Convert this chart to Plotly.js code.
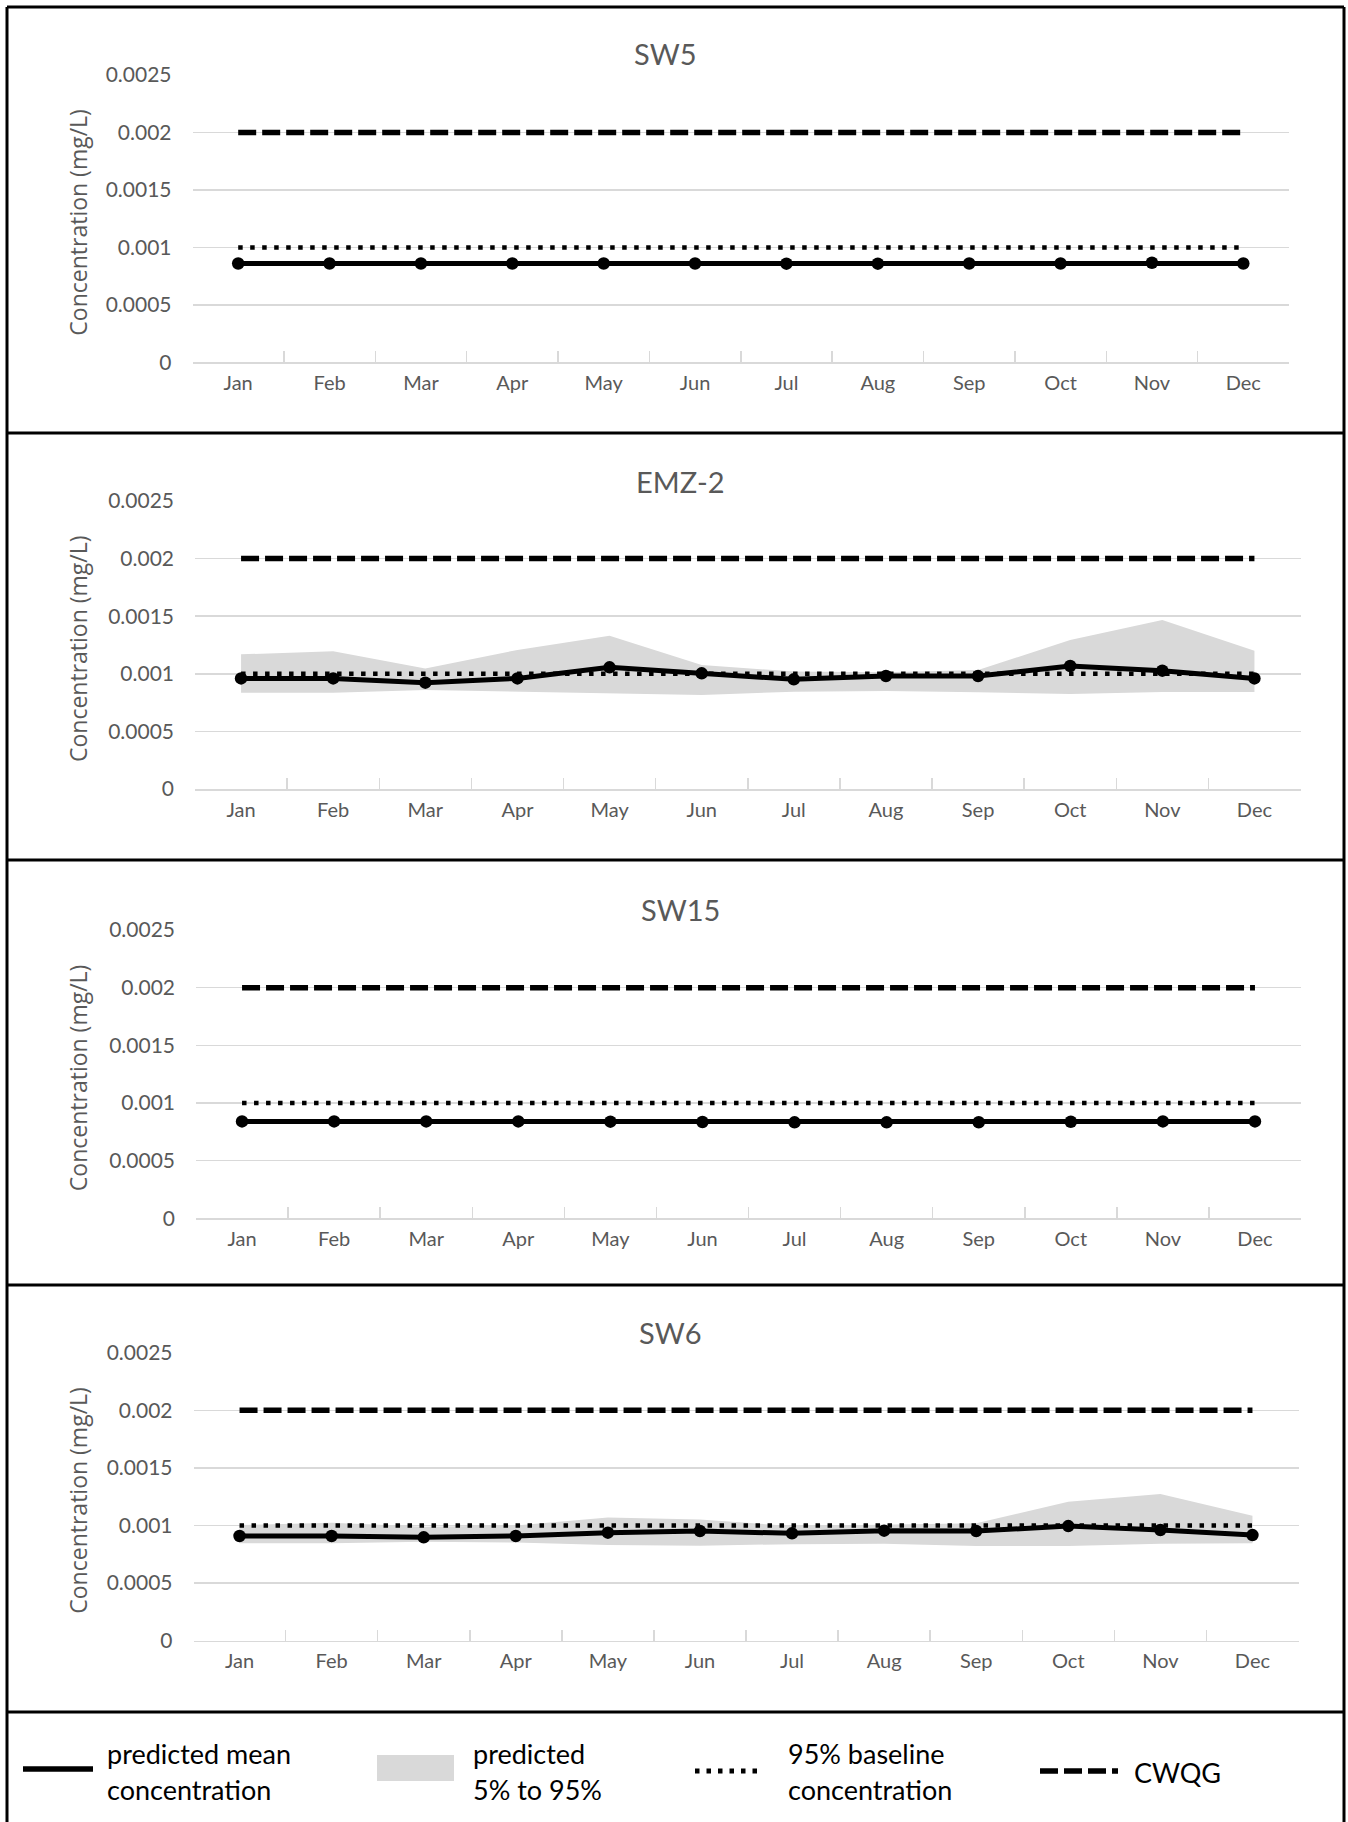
<!DOCTYPE html>
<html>
<head>
<meta charset="utf-8">
<script src="https://cdn.plot.ly/plotly-3.0.1.min.js"></script>
<style>html,body{margin:0;padding:0;background:#fff;}#chart{width:1348px;height:1822px;}</style>
</head>
<body>
<div id="chart"></div>
<script>
// ---- data ----
const months = ['Jan','Feb','Mar','Apr','May','Jun','Jul','Aug','Sep','Oct','Nov','Dec'];
const yTickVals = [0, 0.0005, 0.001, 0.0015, 0.002, 0.0025];
const yTickText = ['0', '0.0005', '0.001', '0.0015', '0.002', '0.0025'];
const panelTitles = ['SW5', 'EMZ-2', 'SW15', 'SW6'];

const cwqg       = [0.002, 0.002, 0.002, 0.002, 0.002, 0.002, 0.002, 0.002, 0.002, 0.002, 0.002, 0.002];
const baseline95 = [0.001, 0.001, 0.001, 0.001, 0.001, 0.001, 0.001, 0.001, 0.001, 0.001, 0.001, 0.001];

const sw5Mean  = [0.00086, 0.00086, 0.00086, 0.00086, 0.00086, 0.00086, 0.000858, 0.000858, 0.00086, 0.00086, 0.000866, 0.00086];

const emz2Mean = [0.00096, 0.00096, 0.000923, 0.00096, 0.001056, 0.001004, 0.000952, 0.000981, 0.00098, 0.001068, 0.001027, 0.00096];
const emz2P95  = [0.001169, 0.001195, 0.001045, 0.001207, 0.001331, 0.001076, 0.001019, 0.001013, 0.001033, 0.001293, 0.001467, 0.001201];
const emz2P5   = [0.000836, 0.000836, 0.000859, 0.000845, 0.000825, 0.000816, 0.000845, 0.000851, 0.000839, 0.000825, 0.000842, 0.000842];

const sw15Mean = [0.00084, 0.00084, 0.00084, 0.00084, 0.000838, 0.000835, 0.000832, 0.000832, 0.000833, 0.000837, 0.00084, 0.00084];

const sw6Mean  = [0.000909, 0.000909, 0.000897, 0.000909, 0.000938, 0.000952, 0.000932, 0.000955, 0.000952, 0.000995, 0.000961, 0.000917];
const sw6P95   = [0.001004, 0.001024, 0.00099, 0.001, 0.00107, 0.001053, 0.000995, 0.001004, 0.001019, 0.001207, 0.001273, 0.001085];
const sw6P5    = [0.000845, 0.000845, 0.000859, 0.000852, 0.00083, 0.000825, 0.000838, 0.000841, 0.000822, 0.000822, 0.000841, 0.000845];

const legendLabels = [['predicted mean', 'concentration'], ['predicted', '5% to 95%'], ['95% baseline', 'concentration'], ['CWQG']];

// ---- layout helpers ----
const W = 1348, H = 1822;
const fx = p => p / W;
const fy = p => 1 - p / H;
const FONT = 'Lato, "Open Sans", sans-serif';
const GRAY_TXT = '#595959';
const GRID = '#d9d9d9';

const panels = [
  {mean: sw5Mean,  lo: null,    hi: null,    x0: 192.5, x1: 1289,   yTop: 75,    yBot: 362.3,  titleX: 665, titleY: 53},
  {mean: emz2Mean, lo: emz2P5,  hi: emz2P95, x0: 195,   x1: 1300.5, yTop: 501,   yBot: 789,    titleX: 680, titleY: 482},
  {mean: sw15Mean, lo: null,    hi: null,    x0: 196,   x1: 1301,   yTop: 930,   yBot: 1218.3, titleX: 680, titleY: 910},
  {mean: sw6Mean,  lo: sw6P5,   hi: sw6P95,  x0: 193.5, x1: 1298.5, yTop: 1352.7, yBot: 1640.7, titleX: 670, titleY: 1332}
];

const traces = [];
const layout = {
  width: W, height: H,
  margin: {l: 0, r: 0, t: 0, b: 0},
  paper_bgcolor: '#ffffff', plot_bgcolor: '#ffffff',
  showlegend: false,
  font: {family: FONT, color: GRAY_TXT},
  annotations: [], shapes: []
};

panels.forEach((p, i) => {
  const n = i === 0 ? '' : String(i + 1);
  const xa = 'x' + n, ya = 'y' + n;
  if (p.lo) {
    traces.push({x: months, y: p.lo, xaxis: xa, yaxis: ya, mode: 'lines', line: {width: 0, color: GRID}, hoverinfo: 'skip'});
    traces.push({x: months, y: p.hi, xaxis: xa, yaxis: ya, mode: 'lines', line: {width: 0, color: GRID}, fill: 'tonexty', fillcolor: GRID, hoverinfo: 'skip'});
  }
  traces.push({x: months, y: baseline95, xaxis: xa, yaxis: ya, mode: 'lines', name: '95% baseline concentration', line: {color: '#000', width: 4.5, dash: '4.5px,7.5px'}});
  traces.push({x: months, y: cwqg, xaxis: xa, yaxis: ya, mode: 'lines', name: 'CWQG', line: {color: '#000', width: 5.5, dash: '18px,6px'}});
  traces.push({x: months, y: p.mean, xaxis: xa, yaxis: ya, mode: 'lines+markers', name: 'predicted mean concentration',
    line: {color: '#000', width: 5}, marker: {color: '#000', size: 12.5, symbol: 'circle'}});

  layout['xaxis' + n] = {
    domain: [fx(p.x0), fx(p.x1)], anchor: ya, type: 'category', range: [-0.5, 11.5],
    showgrid: false, zeroline: false, showline: true, linecolor: GRID, linewidth: 1.5,
    ticks: 'inside', tickson: 'boundaries', ticklen: 11, tickcolor: GRID, tickwidth: 1.5,
    tickfont: {family: FONT, size: 20, color: GRAY_TXT}, ticklabelstandoff: 2, fixedrange: true
  };
  layout['yaxis' + n] = {
    domain: [fy(p.yBot), fy(p.yTop)], anchor: xa, range: [0, 0.0025],
    tickvals: yTickVals, ticktext: yTickText,
    showgrid: true, gridcolor: GRID, gridwidth: 1.5, zeroline: false, showline: false, ticks: '',
    tickfont: {family: FONT, size: 21, color: GRAY_TXT}, ticklabelstandoff: 20, fixedrange: true
  };
  layout.annotations.push({text: panelTitles[i], xref: 'paper', yref: 'paper', x: fx(p.titleX), y: fy(p.titleY),
    xanchor: 'center', yanchor: 'middle', showarrow: false, font: {family: FONT, size: 29, color: GRAY_TXT}});
  layout.annotations.push({text: 'Concentration (mg/L)', xref: 'paper', yref: 'paper', x: fx(78), y: fy((p.yTop + p.yBot) / 2 + 4),
    xanchor: 'center', yanchor: 'middle', textangle: -90, showarrow: false, font: {family: '"Open Sans", sans-serif', size: 23, color: GRAY_TXT}});
});

// panel borders
const bl = {color: '#000', width: 3};
const line = (x0, y0, x1, y1) => ({type: 'line', xref: 'paper', yref: 'paper', x0: fx(x0), y0: fy(y0), x1: fx(x1), y1: fy(y1), line: bl});
layout.shapes.push(line(7, 7, 1344, 7));
layout.shapes.push(line(7, 7, 7, 1822));
layout.shapes.push(line(1344, 7, 1344, 1822));
[433, 860, 1285, 1712].forEach(y => layout.shapes.push(line(7, y, 1344, y)));

// legend glyphs
const lshape = (x0, x1, y, w, dash) => ({type: 'line', xref: 'paper', yref: 'paper', x0: fx(x0), x1: fx(x1), y0: fy(y), y1: fy(y), line: {color: '#000', width: w, dash: dash}});
layout.shapes.push(lshape(23, 93, 1769, 5.5, 'solid'));
layout.shapes.push({type: 'rect', xref: 'paper', yref: 'paper', x0: fx(377), x1: fx(454), y0: fy(1781), y1: fy(1755), fillcolor: GRID, line: {width: 0}});
layout.shapes.push(lshape(695, 761, 1771, 5, '4.5px,7px'));
layout.shapes.push(lshape(1040, 1118, 1771, 5.5, '18px,6px'));

const legendX = [105, 471, 786, 1132];
legendLabels.forEach((lines, k) => {
  const ys = lines.length === 2 ? [1753.5, 1789.5] : [1772];
  lines.forEach((t, j) => {
    layout.annotations.push({text: t, xref: 'paper', yref: 'paper', x: fx(legendX[k]), y: fy(ys[j]),
      xanchor: 'left', yanchor: 'middle', showarrow: false, font: {family: FONT, size: 27, color: '#000'}});
  });
});

Plotly.newPlot('chart', traces, layout, {displayModeBar: false, staticPlot: true});
</script>
</body>
</html>
